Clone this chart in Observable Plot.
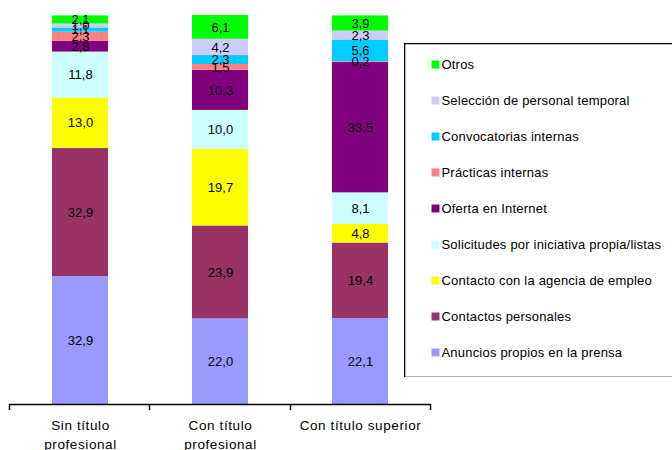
<!DOCTYPE html>
<html><head><meta charset="utf-8">
<script src="https://cdn.jsdelivr.net/npm/d3@7"></script>
<script src="https://cdn.jsdelivr.net/npm/@observablehq/plot@0.6"></script>
<style>
html,body{margin:0;padding:0;background:#fff;overflow:hidden;}
#wrap{position:relative;width:672px;height:450px;overflow:hidden;background:#fff;}
#legend{position:absolute;left:404px;top:43px;width:300px;height:334px;}
#legend svg{max-width:none !important;}
#chart svg g[aria-label="x-axis tick label"] text{letter-spacing:0.6px;}
#legend svg g[aria-label="text"] text{letter-spacing:0.2px;}
</style></head><body><div id="wrap"><div id="chart"></div><div id="legend"></div></div>
<script>
const categories = ["Sin título profesional", "Con título profesional", "Con título superior"];
const tickLabels = ["Sin título\nprofesional", "Con título\nprofesional", "Con título superior"];
const series = ["Anuncios propios en la prensa", "Contactos personales", "Contacto con la agencia de empleo", "Solicitudes por iniciativa propia/listas", "Oferta en Internet", "Prácticas internas", "Convocatorias internas", "Selección de personal temporal", "Otros"];
const colors = ["#9999FF", "#993366", "#FFFF00", "#CCFFFF", "#800080", "#FF8080", "#00CCFF", "#CCCCFF", "#00FF00"];
const anuncios = [32.9, 22.0, 22.1];
const contactos = [32.9, 23.9, 19.4];
const agencia = [13.0, 19.7, 4.8];
const solicitudes = [11.8, 10.0, 8.1];
const oferta = [2.8, 10.3, 33.5];
const practicas = [2.3, 1.5, 0.2];
const convocatorias = [1.1, 2.3, 5.6];
const seleccion = [1.0, 4.2, 2.3];
const otros = [2.1, 6.1, 3.9];

const valueRows = [anuncios, contactos, agencia, solicitudes, oferta, practicas, convocatorias, seleccion, otros];
const data = series.flatMap((s, i) => categories.map((c, j) => ({category: c, series: s, value: valueRows[i][j]})));

const fmt = v => d3.format(".1f")(v).replace(".", ",");
const font = "'Liberation Sans', Arial, sans-serif";

function boundaryTicks(index, scales, values, dims) {
  const g = d3.create("svg:g").attr("aria-label", "x-boundaries");
  const left = dims.marginLeft, right = dims.width - dims.marginRight;
  const y0 = dims.height - dims.marginBottom;
  const n = categories.length;
  for (let i = 0; i <= n; i++) {
    const xi = Math.round(left + i * (right - left) / n) + 0.5;
    g.append("line").attr("x1", xi).attr("x2", xi).attr("y1", y0).attr("y2", y0 + 6)
      .attr("stroke", "black").attr("stroke-width", 1.5);
  }
  return g.node();
}

const chart = Plot.plot({
  width: 672, height: 450,
  marginLeft: 9, marginRight: 242, marginTop: 15, marginBottom: 46,
  style: {fontFamily: font, background: "white", color: "black"},
  x: {domain: categories, paddingInner: 0.6, paddingOuter: 0.3, axis: null, label: null},
  y: {domain: [0, 100], axis: null},
  color: {domain: series, range: colors},
  marks: [
    Plot.barY(data, {x: "category", y: "value", z: "series", fill: "series", order: series}),
    Plot.text(data, Plot.stackY({x: "category", y: "value", z: "series", order: series, text: d => fmt(d.value), fontSize: 13, fill: "black"})),
    Plot.ruleY([0], {stroke: "black", strokeWidth: 1.5}),
    boundaryTicks,
    Plot.axisX({tickSize: 0, tickPadding: 12, fontSize: 13.5, lineHeight: 1.4, fill: "black", label: null,
      tickFormat: d => tickLabels[categories.indexOf(d)]})
  ]
});
document.getElementById("chart").append(chart);

const legendOrder = series.slice().reverse();
const legend = Plot.plot({
  width: 300, height: 334,
  marginLeft: 0, marginRight: 0, marginTop: 0, marginBottom: 0,
  style: {fontFamily: font, background: "white", color: "black"},
  y: {type: "point", domain: legendOrder, range: [20.3, 310.3], padding: 0, axis: null},
  color: {domain: series, range: colors},
  marks: [
    Plot.frame({stroke: "black", strokeWidth: 1.6}),
    Plot.dot(legendOrder, {y: d => d, fill: d => d, symbol: "square", r: 4.5, frameAnchor: "left", dx: 31}),
    Plot.text(legendOrder, {y: d => d, text: d => d, frameAnchor: "left", dx: 37, textAnchor: "start", fontSize: 13, fill: "black"})
  ]
});
document.getElementById("legend").append(legend);
</script></body></html>
